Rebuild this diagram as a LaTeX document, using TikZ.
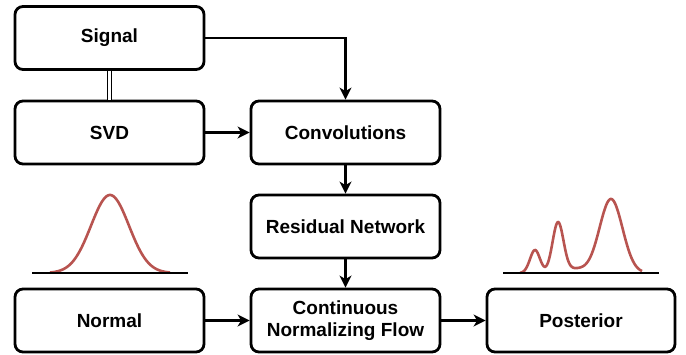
\documentclass[tikz,border=0pt]{standalone}
\usepackage{fontspec}
\setmainfont{Liberation Sans}
\usetikzlibrary{arrows.meta}
\definecolor{curvered}{HTML}{B85450}
\begin{document}
\begin{tikzpicture}[x=1pt,y=-1pt,
  box/.style={draw, line width=2.8pt, rounded corners=8pt, minimum width=189pt, minimum height=63pt,
    align=center, font=\bfseries\fontsize{19}{22.5}\selectfont, inner sep=0pt},
  arr/.style={line width=2.6pt, -{Stealth[length=12pt,width=12pt,inset=3.5pt]}},
  dist/.style={curvered, line width=2.6pt},
  base/.style={line width=2.2pt}]
\useasboundingbox (0,0) rectangle (686,354);
\node[box] (sig) at (109.5,38) {Signal};
\node[box] (svd) at (109.5,132.5) {SVD};
\node[box] (conv) at (345.5,132.5) {Convolutions};
\node[box] (res) at (345.5,226.5) {Residual Network};
\node[box] (cnf) at (345.5,320.5) {Continuous\\Normalizing Flow};
\node[box] (nor) at (109.5,320.5) {Normal};
\node[box, minimum width=188pt] (post) at (581,320.5) {Posterior};

\draw[line width=1.5pt, double distance=2.2pt] (sig) -- (svd);
\draw[arr] (sig.east) -| (conv.north);
\draw[arr] (svd) -- (conv);
\draw[arr] (conv) -- (res);
\draw[arr] (res) -- (cnf);
\draw[arr] (nor) -- (cnf);
\draw[arr] (cnf) -- (post);

% Normal distribution
\coordinate (nb1) at (32,273);
\coordinate (nb2) at (188,273);
\draw[dist] plot[domain=50:170, samples=120, smooth] (\x, {273-78*exp(-0.5*pow((\x-110)/19,2))});
\draw[base] (nb1) -- (nb2);
% Posterior distribution
\coordinate (pb1) at (503,273);
\coordinate (pb2) at (659,273);
\draw[dist] plot[domain=520:642, samples=160, smooth]
  (\x, {273-23*exp(-0.5*pow((\x-535)/5,2))-50*exp(-0.5*pow((\x-558)/5.5,2))-74*exp(-0.5*pow((\x-611)/11.5,2))-4*exp(-0.5*pow((\x-575)/10,2))});
\draw[base] (pb1) -- (pb2);
\end{tikzpicture}
\end{document}
